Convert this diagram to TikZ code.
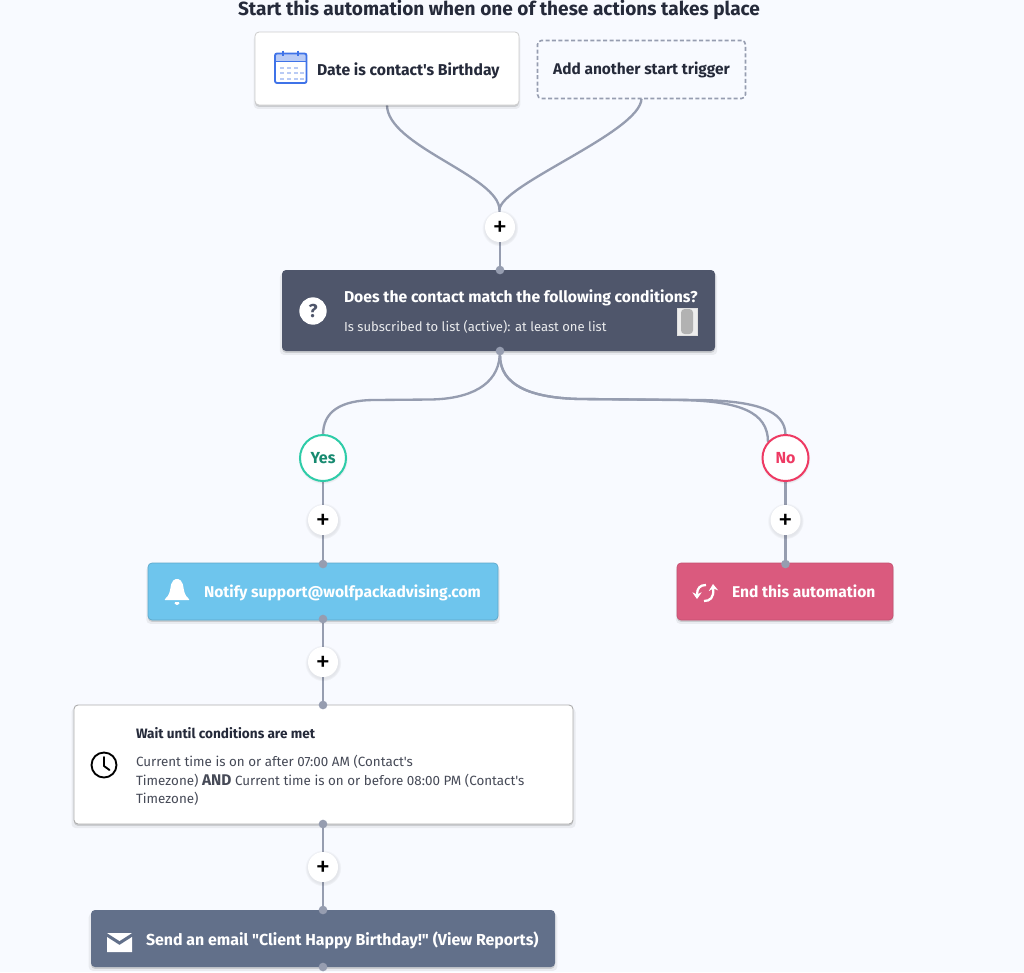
\documentclass[tikz,border=0pt]{standalone}
\usepackage{fontspec}
\newfontfamily\flatfam{Fira Sans}
\usetikzlibrary{shadows,backgrounds,arrows.meta}
\definecolor{pagebg}{HTML}{F8FAFF}
\definecolor{ink}{HTML}{252A3A}
\definecolor{wire}{HTML}{969DB0}
\definecolor{slate}{HTML}{4F566B}
\definecolor{sky}{HTML}{6EC5ED}
\definecolor{rose}{HTML}{DA5A7E}
\definecolor{steel}{HTML}{62708A}
\definecolor{yesline}{HTML}{2ECCA8}
\definecolor{yestext}{HTML}{178A70}
\definecolor{noline}{HTML}{EE3A63}
\definecolor{calblue}{HTML}{3F73E8}
\definecolor{callight}{HTML}{B9CBF5}
\newcommand{\fs}[1]{\flatfam\fontsize{#1}{#1}\selectfont}
\newcommand{\plusmark}{\raisebox{-7pt}[8pt][8pt]{+}}
\tikzset{
  softshade/.style={drop shadow={shadow xshift=0pt,shadow yshift=-2.6pt,shadow scale=1.01,opacity=.06,fill=black},
                    drop shadow={shadow xshift=0pt,shadow yshift=-1.4pt,opacity=.13,fill=black}},
  pxsize/.style 2 args={minimum width=#1*0.75pt,minimum height=#2*0.75pt},
  card/.style={rectangle,rounded corners=3pt,inner sep=0pt,outer sep=0pt,softshade},
  txt/.style={inner sep=0pt,outer sep=0pt,anchor=base west},
  dotnode/.style={circle,fill=wire,minimum size=6.5pt,inner sep=0pt,outer sep=0pt},
  plusnode/.style={circle,fill=white,minimum size=22.5pt,inner sep=0pt,outer sep=0pt,font=\fs{22},text=black,
     circular drop shadow={shadow xshift=0pt,shadow yshift=-0.6pt,shadow scale=1.22,opacity=.08,fill=black}},
  choice/.style={circle,fill=white,line width=1.5pt,minimum size=34.5pt,inner sep=0pt,outer sep=0pt,font=\fs{12}\bfseries,
     circular drop shadow={shadow xshift=0pt,shadow yshift=-0.8pt,shadow scale=1.08,opacity=.12,fill=black}},
  wireline/.style={draw=wire,line width=1.75pt},
}
\pgfdeclarelayer{under}
\pgfsetlayers{under,main}
\begin{document}
\begin{tikzpicture}[x=0.75pt,y=-0.75pt]
\useasboundingbox (0,0) rectangle (1024,972);
\begin{pgfonlayer}{under}
\fill[pagebg] (0,0) rectangle (1024,972);
\end{pgfonlayer}

% title
\node[txt,text=ink,font=\fs{14.3}\bfseries] (title) at (238,15) {Start this automation when one of these actions takes place};

% cards
\node[card,fill=white,draw=black!20,line width=.6pt,pxsize={264}{73}] (birthday) at (387,68.5) {};
\node[rectangle,rounded corners=3pt,inner sep=0pt,outer sep=0pt,draw=wire,dashed,line width=1.2pt,fill=pagebg,
      dash pattern=on 3pt off 1.8pt,pxsize={208}{58},text=ink,font=\fs{11.6}\bfseries] (addtrig) at (641.5,69.5) {Add another start trigger};
\node[card,fill=slate,pxsize={433}{81}] (cond) at (498.5,310.5) {};
\node[card,fill=sky,draw=sky!85!black,line width=.5pt,pxsize={350}{57}] (notify) at (323,591.5) {};
\node[card,fill=rose,draw=rose!90!black,line width=.5pt,pxsize={216}{57}] (endbox) at (785,591.5) {};
\node[card,fill=white,draw=black!32,line width=.7pt,pxsize={499}{119}] (waitbox) at (323.5,764.5) {};
\node[card,fill=steel,pxsize={464}{57}] (email) at (323,938.5) {};

% choice + plus nodes
\node[choice,draw=yesline,text=yestext] (yes) at (323,458) {Yes};
\node[choice,draw=noline,text=noline] (no) at (785.5,458) {No};
\node[plusnode] (p1) at (500,227) {\plusmark};
\node[plusnode] (p2) at (323,520) {\plusmark};
\node[plusnode] (p3) at (785.5,520) {\plusmark};
\node[plusnode] (p4) at (323,662) {\plusmark};
\node[plusnode] (p5) at (323,867) {\plusmark};

% dots
\node[dotnode] (d1) at (500,270) {};
\node[dotnode] (d2) at (500,351) {};
\node[dotnode] (d3) at (323,564) {};
\node[dotnode] (d4) at (785.5,564) {};
\node[dotnode] (d5) at (323,619) {};
\node[dotnode] (d6) at (323,705) {};
\node[dotnode] (d7) at (323,824) {};
\node[dotnode] (d8) at (323,910) {};
\node[dotnode] (d9) at (323,967) {};
\coordinate (join) at (499.5,210);
\coordinate (noB) at (768,442);

% connectors
\begin{pgfonlayer}{under}
\draw[wireline] (birthday.south) .. controls (387,146) and (499.5,176) .. (join);
\draw[wireline] (addtrig.south) .. controls (641,132) and (499.5,185) .. (join);
\draw[wireline] (join) -- (p1);
\draw[wireline] (p1) -- (d1);
\draw[wireline] (d2) .. controls (498,385) and (470,399) .. (430,399.5) -- (375,400) .. controls (340,400) and (323,412) .. (yes.north);
\draw[wireline] (d2) .. controls (500,385) and (530,398) .. (580,399) -- (700,400) .. controls (755,401) and (785.5,410) .. (no.north);
\draw[wireline] (d2) .. controls (500,385) and (530,398) .. (580,399) -- (680,400) .. controls (740,401) and (768,412) .. (noB);
\draw[wireline] (yes) -- (p2);
\draw[wireline] (p2) -- (d3);
\draw[wireline] (no) -- (p3);
\draw[wireline] (p3) -- (d4);
\draw[wireline] (d5) -- (p4);
\draw[wireline] (p4) -- (d6);
\draw[wireline] (d7) -- (p5);
\draw[wireline] (p5) -- (d8);
\end{pgfonlayer}

% texts
\node[txt,text=ink,font=\fs{11.8}\bfseries] (t1) at (317,75) {Date is contact's Birthday};
\node[txt,text=white,font=\fs{11.8}\bfseries] (t2) at (344,302) {Does the contact match the following conditions?};
\node[txt,text=white!88!slate,font=\fs{9.8}] (t3) at (344,331) {Is subscribed to list (active): at least one list};
\node[txt,text=white,font=\fs{11.7}\bfseries] (t4) at (204,597) {Notify support@wolfpackadvising.com};
\node[txt,text=white,font=\fs{11.7}\bfseries] (t5) at (732,597) {End this automation};
\node[txt,text=ink,font=\fs{10.2}\bfseries] (t6) at (136,738) {Wait until conditions are met};
\node[txt,anchor=north west,align=left,text=ink!85,font=\flatfam\fontsize{10.05}{13.9}\selectfont] (t7) at (136,755.5)
  {Current time is on or after 07:00 AM (Contact's\\Timezone) {\fs{11.6}\bfseries AND} Current time is on or before 08:00 PM (Contact's\\Timezone)};
\node[txt,text=white,font=\fs{11.95}\bfseries] (t8) at (146,945) {Send an email "Client Happy Birthday!" (View Reports)};

% icons: calendar
\fill[callight] (275,54) rectangle (306,61);
\draw[calblue,line width=1.4pt,rounded corners=1.5pt] (275,53.5) rectangle (306.5,83);
\draw[calblue,line width=1.3pt] (275,61.5) -- (306.5,61.5) (283,50.5) -- (283,56) (298,50.5) -- (298,56);
\foreach \cx in {280,287,294}{\fill[callight] (\cx,66.5) rectangle +(3.6,2.2);}
\foreach \cy in {72,78}{\foreach \cx in {280,287,294,300}{\fill[callight] (\cx,\cy) rectangle +(3.6,2.2);}}
% question
\node[circle,fill=white,minimum size=20.5pt,inner sep=0pt,text=slate,font=\fs{14}\bfseries] (qmark) at (313,311) {?};
% pill image
\node[rectangle,fill=black!7,draw=black!12,line width=.3pt,pxsize={20}{27},inner sep=0pt] (thumb) at (687,321.5) {};
\fill[black!30,rounded corners=2.7pt] (681,309) rectangle (693,334);
% bell
\fill[white,rounded corners=.8pt] (164,600) .. controls (170,595) and (170,590) .. (171,585) .. controls (172,581) and (174.5,579) .. (177,579) .. controls (179.5,579) and (182,581) .. (183,585) .. controls (184,590) and (184,595) .. (190,600) -- cycle;
\fill[white,rounded corners=1pt] (174,602) -- (180,602) -- (178.5,605) -- (175.5,605) -- cycle;
% sync
\draw[white,line width=1.7pt,-{Stealth[length=5pt,width=7pt]}] (706,585) .. controls (700,585) and (697,588) .. (697,599);
\draw[white,line width=1.7pt,-{Stealth[length=5pt,width=7pt]}] (704,601) .. controls (710,601) and (714,598) .. (713,584);
% clock
\draw[black,line width=1.4pt] (104,765) circle (12.5);
\draw[black,line width=1.4pt,line cap=round,line join=round] (104,757) -- (104,766) -- (109.5,770);
% envelope
\fill[white] (107,933) -- (132,933) -- (119.5,941) -- cycle;
\fill[white] (107,937) -- (119.5,945) -- (132,937) -- (132,952) -- (107,952) -- cycle;
\end{tikzpicture}
\end{document}
